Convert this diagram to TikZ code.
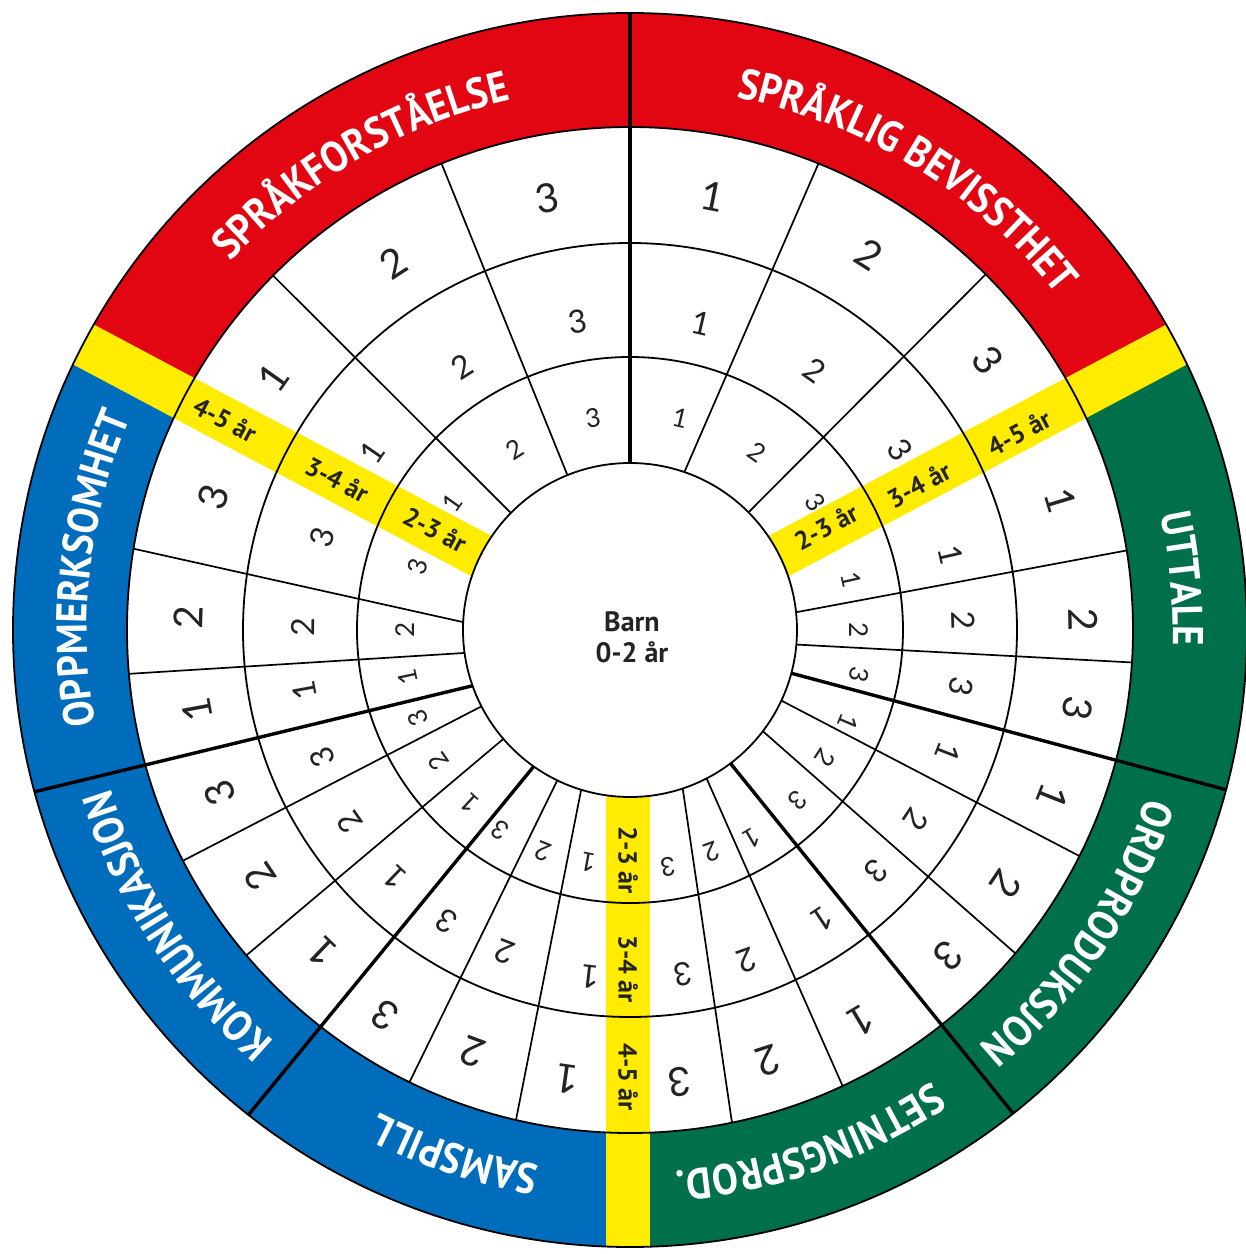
\documentclass[tikz,border=0pt]{standalone}
\usepackage{fontspec}
\usetikzlibrary{decorations.text}
\newfontfamily\labfont{PT Sans}[FakeStretch=0.9]
\newfontfamily\yfont{PT Sans}
\newfontfamily\digfont{Lato}
\definecolor{wred}{RGB}{226,6,19}
\definecolor{wgreen}{RGB}{0,112,76}
\definecolor{wblue}{RGB}{0,108,188}
\definecolor{wyel}{RGB}{255,236,0}
\definecolor{ink}{RGB}{35,35,35}
\tikzset{
  thinline/.style={line width=1.7pt, black},
  thickline/.style={line width=3.4pt, black},
  ringline/.style={line width=1.8pt, black},
  ylab/.style={font=\yfont\bfseries\fontsize{26}{26}\selectfont, text=ink, inner sep=0pt},
  catlab/.style={decorate, decoration={text along path, text align=center, text color=white}},
}
\begin{document}
\begin{tikzpicture}[x=1pt,y=1pt]
\useasboundingbox (-630,-624) rectangle (616,630);
\fill[white] (-630,-624) rectangle (616,630);
% coloured outer band
\fill[wred] (0,0) -- (28:617) arc[start angle=28,end angle=152,radius=617] -- cycle;
\fill[wblue] (0,0) -- (152:617) arc[start angle=152,end angle=270,radius=617] -- cycle;
\fill[wgreen] (0,0) -- (270:617) arc[start angle=270,end angle=388,radius=617] -- cycle;
\fill[white] (0,0) circle (503);
% thin cell separators
\foreach \ti/\to in {71/68, 44.8/45, 112/112, 135.5/135.2, 177.3/170.7, 187.9/185,
  207.2/207.3, 220.7/220.3, 244.2/244, 253/256.9, -71.6/-78.3, -62.7/-65,
  -37.3/-40, -25/-26.7, -5/-3.7, 6.1/9.1}
  \draw[thinline] (\ti:167) -- (\to:503);
% thick category separators
\foreach \ti/\to in {90/90, -15/-15, -53/-51.6, 234.8/231.8, 199.5/195.2}
  \draw[thickline] (\ti:167) -- (\to:617);
% yellow age bands
\begin{scope}
  \clip (0,0) circle (617);
  \fill[wyel, rotate=152] (0,-18) rectangle (640,27);
  \fill[wyel, rotate=28] (0,-27) rectangle (640,18);
  \fill[wyel] (-24,0) rectangle (20,-640);
\end{scope}
% rings
\draw[ringline] (0,0) circle (273);
\draw[ringline] (0,0) circle (387);
\draw[ringline] (0,0) circle (503);
\draw[ringline] (0,0) circle (617);
\draw[ringline, fill=white] (0,0) circle (167);
% centre
\node[font=\yfont\bfseries\fontsize{28}{31}\selectfont, text=ink, align=center] (barn) at (2,-7) {Barn\\0-2 år};
% category labels
\path[catlab, decoration={text={|\labfont\bfseries\fontsize{43}{43}\selectfont|SPRÅKFORSTÅELSE}}] (165:543) arc[start angle=165,end angle=75,radius=543];
\path[catlab, decoration={text={|\labfont\bfseries\fontsize{43}{43}\selectfont|SPRÅKLIG BEVISSTHET}}] (103.4:543) arc[start angle=103.4,end angle=13.4,radius=543];
\path[catlab, decoration={text={|\labfont\bfseries\fontsize{43}{43}\selectfont|UTTALE}}] (50.3:543) arc[start angle=50.3,end angle=-39.7,radius=543];
\path[catlab, decoration={text={|\labfont\bfseries\fontsize{43}{43}\selectfont|ORDPRODUKSJON}}] (11:543) arc[start angle=11,end angle=-79,radius=543];
\path[catlab, decoration={text={|\labfont\bfseries\fontsize{43}{43}\selectfont|SETNINGSPROD.}}] (-25.7:543) arc[start angle=-25.7,end angle=-115.7,radius=543];
\path[catlab, decoration={text={|\labfont\bfseries\fontsize{43}{43}\selectfont|SAMSPILL}}] (296.5:543) arc[start angle=296.5,end angle=206.5,radius=543];
\path[catlab, decoration={text={|\labfont\bfseries\fontsize{43}{43}\selectfont|KOMMUNIKASJON}}] (258.1:543) arc[start angle=258.1,end angle=168.1,radius=543];
\path[catlab, decoration={text={|\labfont\bfseries\fontsize{43}{43}\selectfont|OPPMERKSOMHET}}] (218.5:543) arc[start angle=218.5,end angle=128.5,radius=543];
% age labels in yellow bands
\node[ylab, rotate=-28] (ul45) at (225-630,630-420) {4-5 år};
\node[ylab, rotate=-28] (ul34) at (337-630,630-480) {3-4 år};
\node[ylab, rotate=-28] (ul23) at (435-630,630-530) {2-3 år};
\node[ylab, rotate=28] (ur23) at (826-630,630-527) {2-3 år};
\node[ylab, rotate=28] (ur34) at (919-630,630-485) {3-4 år};
\node[ylab, rotate=28] (ur45) at (1019-630,630-433) {4-5 år};
\node[ylab, rotate=-90] (b23) at (628-630,630-860) {2-3 år};
\node[ylab, rotate=-90] (b34) at (628-630,630-969) {3-4 år};
\node[ylab, rotate=-90] (b45) at (628-630,630-1077) {4-5 år};
% cell numbers
\foreach \px/\py/\d/\s [count=\i] in {
 273/378/1/40, 393/263/2/40, 547/198/3/40, 372/452/1/32, 462/367/2/32, 578/322/3/32, 452/503/1/26, 515/450/2/26, 593/418/3/26,
 713/197/1/40, 869/255/2/40, 988/360/3/40, 701/323/1/32, 815/370/2/32, 900/450/3/32, 680/418/1/26, 757/452/2/26, 815/502/3/26,
 1061/500/1/40, 1083/620/2/40, 1078/708/3/40, 951/555/1/32, 963/620/2/32, 961/687/3/32, 851/580/1/26, 859/630/2/26, 859/675/3/26,
 1053/797/1/40, 1006/884/2/40, 948/956/3/40, 948/752/1/32, 916/820/2/32, 876/871/3/32, 848/722/1/26, 825/758/2/26, 798/800/3/26,
 861/1021/1/40, 768/1061/2/40, 680/1082/3/40, 822/919/1/32, 747/961/2/32, 683/974/3/32, 752/838/1/26, 712/852/2/26, 668/867/3/26,
 567/1079/1/40, 473/1052/2/40, 385/1015/3/40, 590/977/1/32, 505/952/2/32, 447/921/3/32, 588/862/1/26, 543/852/2/26, 500/830/3/26,
 322/952/1/40, 260/877/2/40, 220/793/3/40, 395/877/1/32, 350/822/2/32, 322/757/3/32, 470/803/1/26, 438/762/2/26, 418/718/3/26,
 197/710/1/40, 188/617/2/40, 213/497/3/40, 305/690/1/32, 303/627/2/32, 322/537/3/32, 408/677/1/26, 405/630/2/26, 418/567/3/26}
 \node[font=\digfont\fontsize{\s}{\s}\selectfont, text=ink, inner sep=0pt, rotate={atan2(630-\py,\px-630)-90}] (d\i) at ({\px-630},{630-\py}) {\d};
\end{tikzpicture}
\end{document}
